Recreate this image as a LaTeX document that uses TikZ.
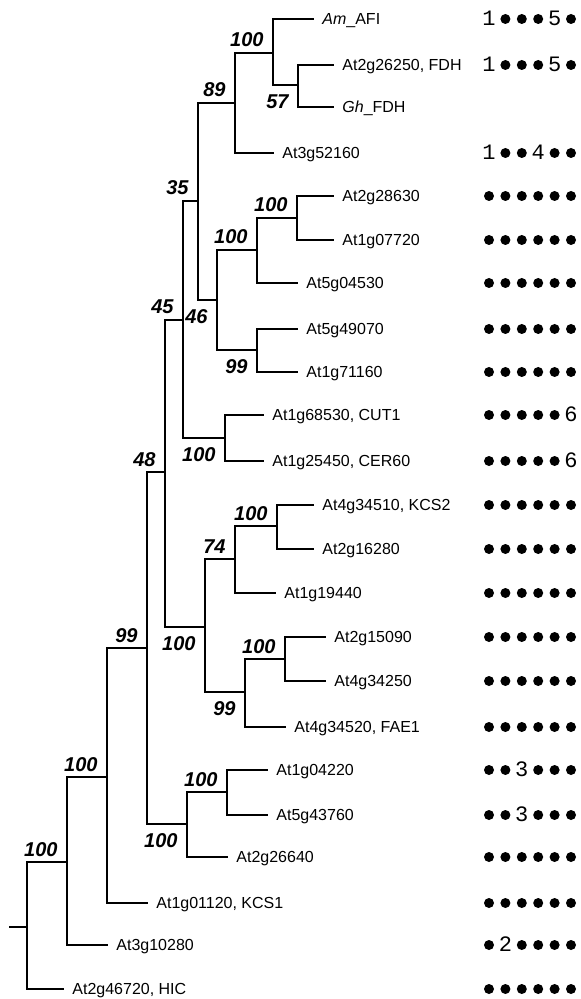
\documentclass[tikz,border=0pt]{standalone}
\usepackage{fontspec}
\setmainfont{Liberation Sans}
\setmonofont{Liberation Mono}
\usetikzlibrary{positioning}

\begin{document}
\begin{tikzpicture}[
    x=0.5pt, y=-0.5pt,
    font=\fontsize{8}{9.6}\selectfont,
    branch/.style={line width=1.45pt, line cap=rect},
    leaf/.style={anchor=west, inner xsep=4.5pt, inner ysep=0pt, text height=5.8pt, text depth=0pt},
    boot/.style={inner sep=0pt, xshift=-4.5pt, font=\fontsize{10}{12}\selectfont\bfseries\itshape},
    bootup/.style={boot, anchor=base east, yshift=3pt},
    bootdown/.style={boot, anchor=north east, yshift=-4.5pt, text height=7pt},
    dot/.style={circle, fill=black, inner sep=0pt, minimum size=5pt},
    motif/.style={inner sep=0pt, text height=6.3pt, text depth=0pt, font=\fontsize{11}{12}\selectfont\ttfamily}
]
\useasboundingbox (0,0) rectangle (581,999);

% ================= LEAVES =================
\node[leaf] (afi)    at (313,19)  {\textit{Am}\_AFI};
\node[leaf] (fdh)    at (333,65)  {At2g26250, FDH};
\node[leaf] (ghfdh)  at (333,107) {\textit{Gh}\_FDH};
\node[leaf] (g52160) at (273,153) {At3g52160};
\node[leaf] (g28630) at (333,196) {At2g28630};
\node[leaf] (g07720) at (333,240) {At1g07720};
\node[leaf] (g04530) at (297,283) {At5g04530};
\node[leaf] (g49070) at (297,329) {At5g49070};
\node[leaf] (g71160) at (297,372) {At1g71160};
\node[leaf] (cut1)   at (263,415) {At1g68530, CUT1};
\node[leaf] (cer60)  at (263,461) {At1g25450, CER60};
\node[leaf] (kcs2)   at (313,505) {At4g34510, KCS2};
\node[leaf] (g16280) at (313,549) {At2g16280};
\node[leaf] (g19440) at (275,593) {At1g19440};
\node[leaf] (g15090) at (325,637) {At2g15090};
\node[leaf] (g34250) at (325,681) {At4g34250};
\node[leaf] (fae1)   at (285,727) {At4g34520, FAE1};
\node[leaf] (g04220) at (267,770) {At1g04220};
\node[leaf] (g43760) at (267,815) {At5g43760};
\node[leaf] (g26640) at (227,857) {At2g26640};
\node[leaf] (kcs1)   at (147,903) {At1g01120, KCS1};
\node[leaf] (g10280) at (107,945) {At3g10280};
\node[leaf] (hic)    at (63,989)  {At2g46720, HIC};

% ================= INNER NODES =================
\coordinate (fdhpair)  at (298,85);
\coordinate (aficlade) at (273,53);
\coordinate (c89)      at (235,103);
\coordinate (pair28)   at (297,218);
\coordinate (c04530)   at (257,250);
\coordinate (pair49)   at (257,350);
\coordinate (c46)      at (217,300);
\coordinate (c35)      at (198,201);
\coordinate (cerpair)  at (225,438);
\coordinate (c45)      at (183,320);
\coordinate (kcspair)  at (277,526);
\coordinate (c74)      at (235,559);
\coordinate (pair15)   at (285,659);
\coordinate (faeclade) at (245,692);
\coordinate (c100f)    at (205,627);
\coordinate (c48)      at (165,472);
\coordinate (pair04)   at (227,792);
\coordinate (c26640)   at (187,824);
\coordinate (c99)      at (147,648);
\coordinate (kcs1clade) at (107,777);
\coordinate (c10280)   at (67,862);
\coordinate (root)     at (27,927);
\coordinate (stub)     at (10,927);

% ================= BRANCHES =================
\draw[branch] (fdh.west) -| (fdhpair) |- (ghfdh.west);
\draw[branch] (afi.west) -| (aficlade) |- (fdhpair);
\draw[branch] (aficlade) -| (c89) |- (g52160.west);
\draw[branch] (g28630.west) -| (pair28) |- (g07720.west);
\draw[branch] (pair28) -| (c04530) |- (g04530.west);
\draw[branch] (g49070.west) -| (pair49) |- (g71160.west);
\draw[branch] (c04530) -| (c46) |- (pair49);
\draw[branch] (c89) -| (c35) |- (c46);
\draw[branch] (cut1.west) -| (cerpair) |- (cer60.west);
\draw[branch] (c35) -| (c45) |- (cerpair);
\draw[branch] (kcs2.west) -| (kcspair) |- (g16280.west);
\draw[branch] (kcspair) -| (c74) |- (g19440.west);
\draw[branch] (g15090.west) -| (pair15) |- (g34250.west);
\draw[branch] (pair15) -| (faeclade) |- (fae1.west);
\draw[branch] (c74) -| (c100f) |- (faeclade);
\draw[branch] (c45) -| (c48) |- (c100f);
\draw[branch] (g04220.west) -| (pair04) |- (g43760.west);
\draw[branch] (pair04) -| (c26640) |- (g26640.west);
\draw[branch] (c48) -| (c99) |- (c26640);
\draw[branch] (c99) -| (kcs1clade) |- (kcs1.west);
\draw[branch] (kcs1clade) -| (c10280) |- (g10280.west);
\draw[branch] (c10280) -| (root) |- (hic.west);
\draw[branch] (stub) -- (root);

% ================= BOOTSTRAP VALUES =================
\node[bootup]   (b1)  at (aficlade)  {100};
\node[bootdown] (b2)  at (fdhpair)   {57};
\node[bootup]   (b3)  at (c89)       {89};
\node[bootup]   (b4)  at (c35)       {35};
\node[bootup]   (b5)  at (pair28)    {100};
\node[bootup]   (b6)  at (c04530)    {100};
\node[bootdown] (b7)  at (c46)       {46};
\node[bootdown] (b8)  at (pair49)    {99};
\node[bootup]   (b9)  at (c45)       {45};
\node[bootdown] (b10) at (cerpair)   {100};
\node[bootup]   (b11) at (c48)       {48};
\node[bootup]   (b12) at (kcspair)   {100};
\node[bootup]   (b13) at (c74)       {74};
\node[bootdown] (b14) at (c100f)     {100};
\node[bootup]   (b15) at (pair15)    {100};
\node[bootdown] (b16) at (faeclade)  {99};
\node[bootup]   (b17) at (c99)       {99};
\node[bootup]   (b18) at (pair04)    {100};
\node[bootdown] (b19) at (c26640)    {100};
\node[bootup]   (b20) at (kcs1clade) {100};
\node[bootup]   (b21) at (c10280)    {100};

% ================= MOTIF COLUMN =================
\foreach \ypos/\mA/\mB/\mC/\mD/\mE/\mF in {
    19/1/d/d/d/5/d, 65/1/d/d/d/5/d, 153/1/d/d/4/d/d,
    196/d/d/d/d/d/d, 240/d/d/d/d/d/d, 283/d/d/d/d/d/d, 329/d/d/d/d/d/d, 372/d/d/d/d/d/d,
    415/d/d/d/d/d/6, 461/d/d/d/d/d/6,
    505/d/d/d/d/d/d, 549/d/d/d/d/d/d, 593/d/d/d/d/d/d, 637/d/d/d/d/d/d, 681/d/d/d/d/d/d, 727/d/d/d/d/d/d,
    770/d/d/3/d/d/d, 815/d/d/3/d/d/d, 857/d/d/d/d/d/d, 903/d/d/d/d/d/d,
    945/d/2/d/d/d/d, 989/d/d/d/d/d/d}{
  \foreach \s [count=\k] in {\mA,\mB,\mC,\mD,\mE,\mF}{
    \if d\s
      \node[dot] (m\ypos-\k) at ({489+16.4*(\k-1)},\ypos) {};
    \else
      \node[motif] (m\ypos-\k) at ({489+16.4*(\k-1)},\ypos) {\s};
    \fi
  }
}

\end{tikzpicture}
\end{document}
